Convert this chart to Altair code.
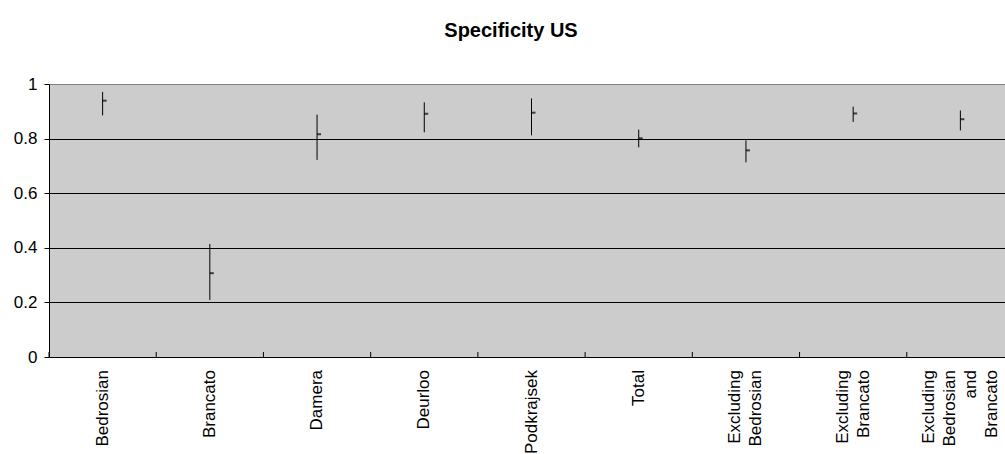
import altair as alt
import pandas as pd

# Specificity of ultrasound per study, with confidence limits
studies = [
    "Bedrosian", "Brancato", "Damera", "Deurloo", "Podkrajsek", "Total",
    "Excluding\nBedrosian", "Excluding\nBrancato",
    "Excluding\nBedrosian\nand\nBrancato",
]
specificity = [0.939, 0.307, 0.816, 0.891, 0.895, 0.801, 0.757, 0.892, 0.871]
lower = [0.885, 0.209, 0.722, 0.823, 0.812, 0.768, 0.713, 0.861, 0.830]
upper = [0.971, 0.414, 0.888, 0.933, 0.947, 0.833, 0.794, 0.917, 0.903]
y_ticks = [0, 0.2, 0.4, 0.6, 0.8, 1]

df = pd.DataFrame({"study": studies, "spec": specificity, "lo": lower, "hi": upper})
df["nlines"] = df["study"].str.count("\n") + 1

FONT = "Liberation Sans"
W, H = 956, 273
LINE_H = 21

x_scale = alt.Scale(domain=studies, range=[0, 965], paddingInner=0, paddingOuter=0)
x_enc = alt.X("study:N", scale=x_scale, sort=studies, axis=None)

base = alt.Chart(df)

# x axis: boundary ticks between categories, no built-in labels
axis_layer = base.mark_rule(opacity=0).encode(
    x=alt.X(
        "study:N", scale=x_scale, sort=studies, title=None,
        axis=alt.Axis(labels=False, bandPosition=0, tickSize=5, tickColor="black",
                      domainColor="black", ticks=True, grid=False),
    ),
    y=alt.Y(
        "spec:Q", scale=alt.Scale(domain=[0, 1], nice=False, zero=True), title=None,
        axis=alt.Axis(values=y_ticks, format="~g", tickSize=5, tickColor="black",
                      domainColor="black", labelFont=FONT, labelFontSize=17,
                      labelColor="black", labelPadding=7, grid=True,
                      gridColor={"condition": {"test": "datum.value === 1", "value": "#808080"},
                                 "value": "black"},
                      gridWidth=1),
    ),
)

# inner half of the crossing ticks on the x axis
inner_ticks = base.mark_rule(color="black", strokeWidth=1).encode(
    x=alt.X("study:N", scale=x_scale, sort=studies, bandPosition=0, axis=None),
    y=alt.value(H),
    y2=alt.value(H - 5),
)

# high-low lines
ranges = base.mark_rule(color="black", strokeWidth=1).encode(
    x=x_enc,
    y=alt.Y("lo:Q"),
    y2="hi:Q",
)

# point estimate marker to the right of each line
points = base.mark_tick(color="black", size=4, thickness=2, xOffset=2, orient="horizontal").encode(
    x=x_enc,
    y=alt.Y("spec:Q"),
)

# rotated category labels; multi-line blocks are centred on their category
label_layers = []
for n in sorted(df["nlines"].unique()):
    label_layers.append(
        base.transform_filter(alt.datum.nlines == int(n))
        .transform_calculate(lines="split(datum.study, '\\n')")
        .mark_text(
            angle=270, align="right", baseline="middle", font=FONT, fontSize=17,
            lineHeight=LINE_H, color="black", dy=-(int(n) - 1) * LINE_H / 2,
        )
        .encode(x=x_enc, y=alt.value(H + 13), text="lines:N")
    )

chart = alt.layer(axis_layer, inner_ticks, ranges, points, *label_layers).properties(
    width=W,
    height=H,
    title=alt.TitleParams(
        "Specificity US", font=FONT, fontSize=20, fontWeight="bold", color="black",
        anchor="middle", frame="group", dx=-16, offset=18, baseline="alphabetic",
    ),
    autosize=alt.AutoSizeParams(type="none"),
    padding={"left": 49, "top": 84, "right": 0, "bottom": 97},
).configure(
    background="white",
).configure_view(
    fill="#CCCCCC", stroke="transparent",
)

chart.save("out.html", embed_options={"renderer": "svg", "actions": False})
